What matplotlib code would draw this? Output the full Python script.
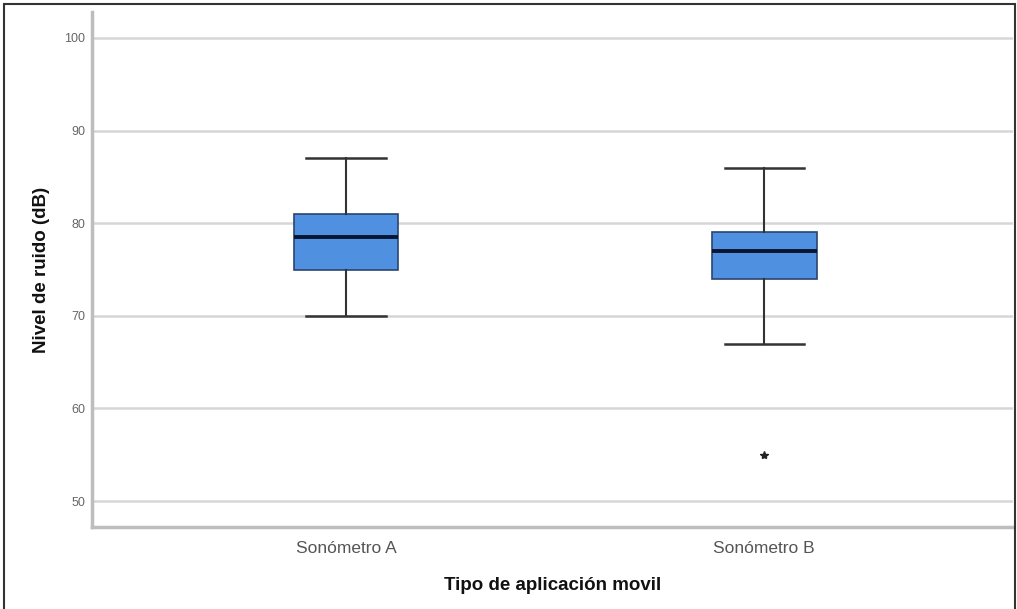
import matplotlib.pyplot as plt
from matplotlib.patches import Rectangle

# summary values
groups = ['Sonómetro A', 'Sonómetro B']
whislo = [70, 67]
q1 = [75, 74]
med = [78.5, 77]
q3 = [81, 79]
whishi = [87, 86]
fliers = [[], [55]]

yticks = [50, 60, 70, 80, 90, 100]

plt.rcParams['font.family'] = ['Liberation Sans', 'DejaVu Sans']

fig = plt.figure(figsize=(10.17, 6.09), dpi=100)
ax = fig.add_axes([92 / 1017, 1 - 527 / 609, (1013 - 92) / 1017, (527 - 12) / 609])

stats = []
for i in range(len(groups)):
    stats.append(dict(label=groups[i], whislo=whislo[i], q1=q1[i], med=med[i],
                      q3=q3[i], whishi=whishi[i], fliers=fliers[i]))

ax.bxp(stats, positions=range(len(groups)), widths=0.25, patch_artist=True,
       boxprops=dict(facecolor='#5090e0', edgecolor='#2a4570', linewidth=1.2),
       medianprops=dict(color='#0a1630', linewidth=2.8),
       whiskerprops=dict(color='#333333', linewidth=1.5),
       capprops=dict(color='#333333', linewidth=1.8),
       capwidths=0.19,
       flierprops=dict(marker='*', markersize=6, markerfacecolor='#222222',
                       markeredgecolor='#222222'),
       zorder=3)

ax.set_xlim(-0.608, 1.595)
ax.set_ylim(47.2, 102.8)
ax.set_yticks(yticks)
ax.set_yticklabels([str(t) for t in yticks], fontsize=9, color='#666666')
ax.tick_params(axis='x', labelsize=12.5, colors='#555555', length=0, pad=10)
ax.tick_params(axis='y', length=0, pad=5)
ax.grid(axis='y', color='#d6d6d6', linewidth=1.8, zorder=0)

for s in ['top', 'right']:
    ax.spines[s].set_visible(False)
for s in ['left', 'bottom']:
    ax.spines[s].set_color('#bdbdbd')
    ax.spines[s].set_linewidth(2.5)

ax.set_xlabel('Tipo de aplicación movil', fontsize=13.5, fontweight='bold',
              color='#111111', labelpad=15)
ax.set_ylabel('Nivel de ruido (dB)', fontsize=13.5, fontweight='bold',
              color='#111111', labelpad=10)

# outer frame around the picture
fig.patches.append(Rectangle((4 / 1017, -0.01), 1011 / 1017, 1 - 4 / 609 + 0.01,
                             transform=fig.transFigure, fill=False,
                             edgecolor='#333333', linewidth=1.5))

fig.savefig('out.png', dpi=100)
